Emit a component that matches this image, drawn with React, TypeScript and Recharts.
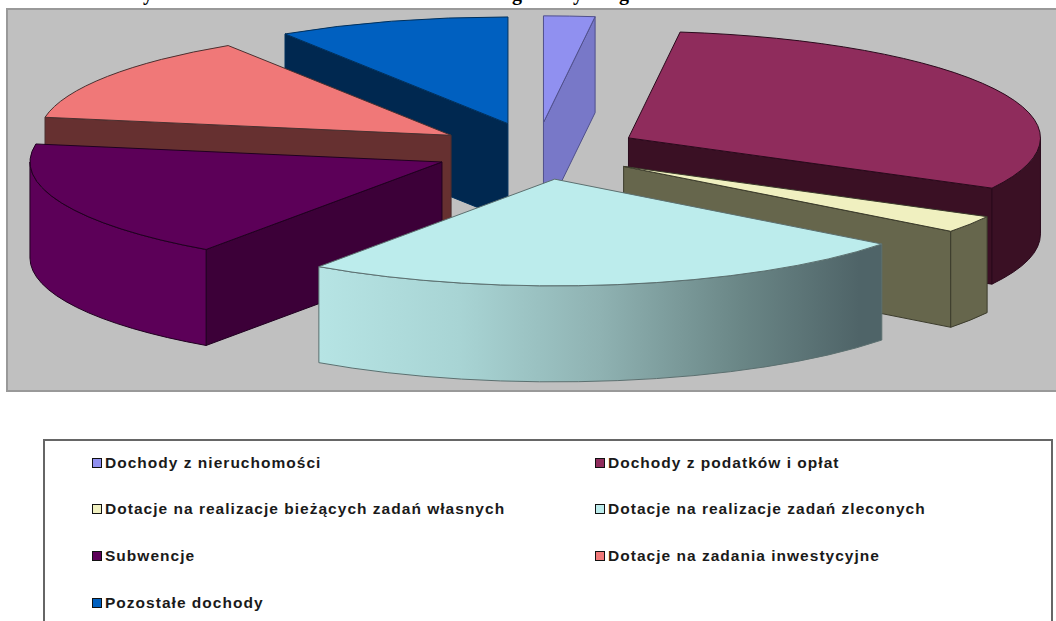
import React from "react";
import { PieChart, Pie } from "recharts";

const CATEGORIES = [
  "Dochody z nieruchomości",
  "Dochody z podatków i opłat",
  "Dotacje na realizacje bieżących zadań własnych",
  "Dotacje na realizacje zadań zleconych",
  "Subwencje",
  "Dotacje na zadania inwestycyjne",
  "Pozostałe dochody",
];
const VALUES = [2.0, 30.8, 2.6, 24.3, 18.0, 13.2, 9.1];
const TOP_COLORS = ["#9090f0", "#8f2c5c", "#f0f0c0", "#bcecec", "#5c0058", "#f07878", "#0060c0"];
const WALL_COLORS = ["#7878c8", "#3a1024", "#66664c", "#bcecec", "#3c0038", "#663030", "#002850"];
const ARC_COLORS = ["#7878c8", "#3a1024", "#66664c", "url(#cyanWall)", "#5c0058", "#663030", "#002850"];
const EDGE_COLORS = ["#50508c", "#2a0a1c", "#3c3c2c", "#5c7070", "#200020", "#4a3030", "#00305c"];
const EXPLODE_X = [0.25, 0.25, 0.25, 0.28, 0.25, 0.25, 0.25];
const EXPLODE_Y = 0.267;
const DRAW_ORDER = [0, 6, 1, 5, 2, 4, 3];
const TITLE_FRAGMENTS = ["y", "g", "y", "g"];
const TITLE_X = [148, 517, 578, 624];

const TILT = 0.259;
const DEPTH = 96;
const rad = Math.PI / 180;

const rows = CATEGORIES.map((name, i) => ({ name, value: VALUES[i] }));

function Slice(props: any, only: number) {
  const i = CATEGORIES.indexOf(props.name ?? props.payload?.name);
  if (i !== only) return <g />;
  const { cx, cy, outerRadius: rx, startAngle, endAngle } = props;
  const ry = rx * TILT;
  const t1 = 90 - startAngle;
  const t2 = 90 - endAngle;
  const mid = (t1 + t2) / 2;
  const ax = cx + EXPLODE_X[i] * rx * Math.sin(mid * rad);
  const ay = cy - EXPLODE_Y * ry * Math.cos(mid * rad);
  const pt = (t: number): [number, number] => [ax + rx * Math.sin(t * rad), ay - ry * Math.cos(t * rad)];
  const edge = EDGE_COLORS[i];
  const [x1, y1] = pt(t1);
  const [x2, y2] = pt(t2);
  const wall = (x: number, y: number) =>
    `M${ax},${ay} L${x},${y} L${x},${y + DEPTH} L${ax},${ay + DEPTH} Z`;
  const s1 = Math.sin(t1 * rad) < 0;
  const s2 = Math.sin(t2 * rad) > 0;
  const a1 = Math.max(t1, 90);
  const a2 = Math.min(t2, 270);
  let arc = "";
  if (a2 > a1) {
    const [p, q] = pt(a1);
    const [r, s] = pt(a2);
    arc = `M${p},${q} A${rx},${ry} 0 0 1 ${r},${s} L${r},${s + DEPTH} A${rx},${ry} 0 0 0 ${p},${q + DEPTH} Z`;
  }
  return (
    <g>
      <defs>
        <linearGradient id="cyanWall" gradientUnits="objectBoundingBox" x1={0} x2={1} y1={0} y2={0}>
          <stop offset="0%" stopColor="#b6e4e4" />
          <stop offset="25%" stopColor="#a8d4d4" />
          <stop offset="50%" stopColor="#8fb2b2" />
          <stop offset="75%" stopColor="#6a8686" />
          <stop offset="96%" stopColor="#4f6468" />
          <stop offset="100%" stopColor="#4f6468" />
        </linearGradient>
      </defs>
      {s1 && <path d={wall(x1, y1)} fill={WALL_COLORS[i]} stroke={edge} strokeWidth={1} />}
      {s2 && <path d={wall(x2, y2)} fill={WALL_COLORS[i]} stroke={edge} strokeWidth={1} />}
      {arc && <path d={arc} fill={ARC_COLORS[i]} stroke={edge} strokeWidth={1} />}
      <path
        d={`M${ax},${ay} L${x1},${y1} A${rx},${ry} 0 0 1 ${x2},${y2} Z`}
        fill={TOP_COLORS[i]}
        stroke={edge}
        strokeWidth={1}
      />
    </g>
  );
}

function LegendBox() {
  return (
    <div
      style={{
        position: "absolute",
        left: 43,
        top: 439,
        width: 1010,
        height: 200,
        border: "2px solid #666",
        background: "#fff",
        boxSizing: "border-box",
      }}
    >
      {CATEGORIES.map((name, i) => (
        <div
          key={name}
          style={{
            position: "absolute",
            left: i % 2 === 0 ? 47 : 550,
            top: 12.5 + Math.floor(i / 2) * 46.7,
            display: "flex",
            alignItems: "center",
            whiteSpace: "nowrap",
            fontFamily: "'Liberation Sans', Arial, sans-serif",
            fontWeight: 700,
            fontSize: 15.5,
            letterSpacing: 1.02,
            color: "#1a1a1a",
            height: 18,
          }}
        >
          <span
            style={{
              width: 10,
              height: 10,
              boxSizing: "border-box",
              border: "1.5px solid #111",
              background: TOP_COLORS[i],
              marginRight: 3,
              display: "inline-block",
            }}
          />
          {name}
        </div>
      ))}
    </div>
  );
}

export default function App() {
  return (
    <div style={{ position: "absolute", left: 0, top: 0, width: 1056, height: 621, overflow: "hidden", background: "#fff" }}>
      <svg width={1056} height={8} style={{ position: "absolute", left: 0, top: 0 }}>
        {TITLE_FRAGMENTS.map((c, i) => (
          <text
            key={i}
            x={TITLE_X[i]}
            y={0}
            textAnchor="middle"
            fontFamily="'Liberation Serif', serif"
            fontWeight={700}
            fontSize={20}
            fill="#000"
          >
            {c}
          </text>
        ))}
      </svg>
      <div
        style={{
          position: "absolute",
          left: 6,
          top: 8,
          width: 1060,
          height: 384,
          background: "#c0c0c0",
          border: "2px solid #999",
          boxSizing: "border-box",
        }}
      />
      <div style={{ position: "absolute", left: 0, top: 0 }}>
        <PieChart width={1056} height={410} margin={{ top: 0, right: 0, bottom: 0, left: 0 }}>
          {DRAW_ORDER.map((k) => (
            <Pie
              key={k}
              data={rows}
              dataKey="value"
              nameKey="name"
              cx={537}
              cy={151}
              innerRadius={0}
              outerRadius={412}
              startAngle={90}
              endAngle={-270}
              stroke="none"
              isAnimationActive={false}
              shape={(p: any) => Slice(p, k)}
              inactiveShape={(p: any) => Slice(p, k)}
              activeShape={(p: any) => Slice(p, k)}
              label={false}
              labelLine={false}
            />
          ))}
        </PieChart>
      </div>
      <LegendBox />
    </div>
  );
}
